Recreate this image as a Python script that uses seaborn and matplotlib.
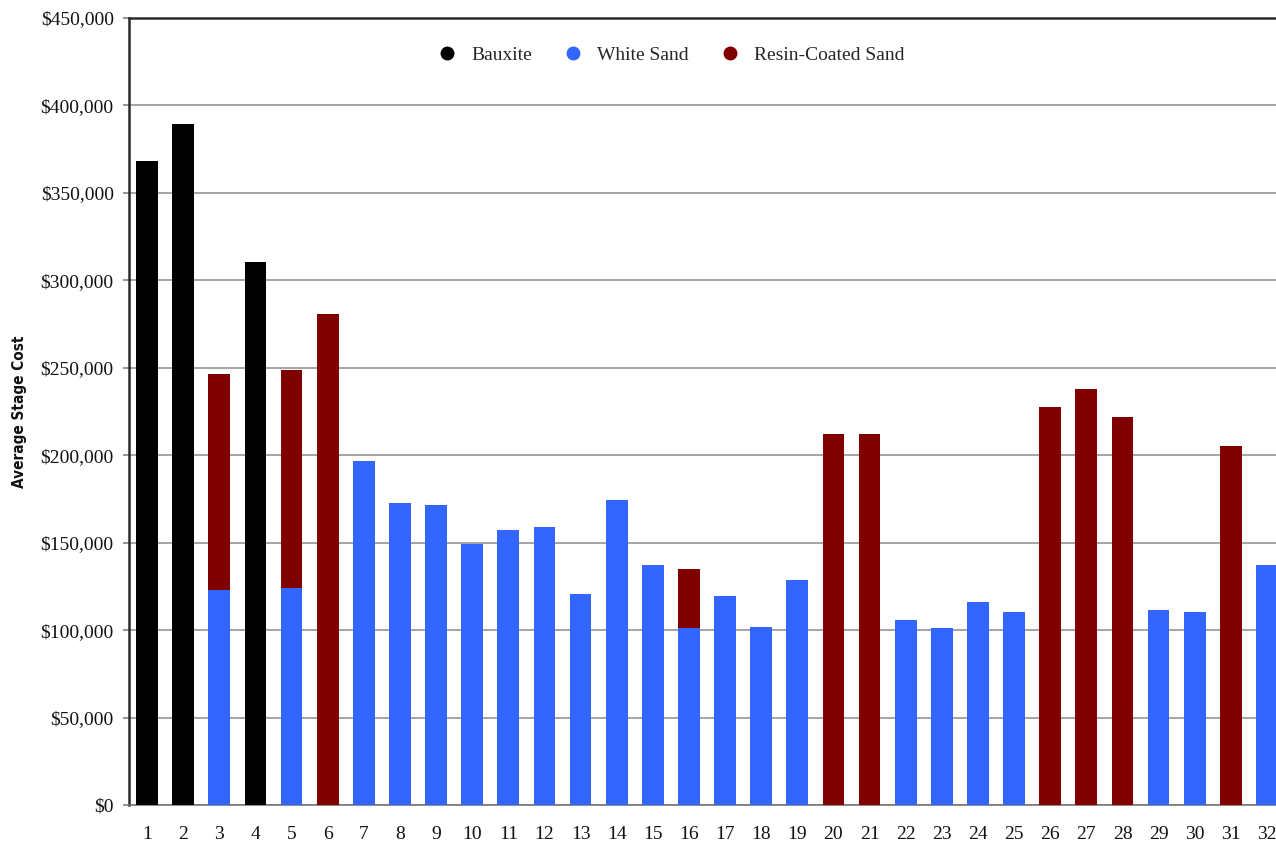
import pandas as pd
import seaborn as sns
import matplotlib.pyplot as plt
from matplotlib.lines import Line2D
from matplotlib.ticker import FuncFormatter, FixedLocator

# well number 1..32
wells = [str(i) for i in range(1, 33)]

# bauxite wells
bauxite_wells = ['1', '2', '4']
bauxite_cost = [368000, 389500, 310500]

# white sand (bottom part of stack)
white_wells = ['3', '5', '7', '8', '9', '10', '11', '12', '13', '14', '15', '16',
               '17', '18', '19', '22', '23', '24', '25', '29', '30', '32']
white_cost = [123000, 124000, 196500, 172500, 171500, 149500, 157000, 159000,
              120500, 174500, 137500, 101000, 119500, 102000, 128500, 106000,
              101000, 116000, 110500, 111500, 110500, 137500]

# resin-coated sand (total height of stack)
resin_wells = ['3', '5', '6', '16', '20', '21', '26', '27', '28', '31']
resin_total = [246500, 248500, 281000, 135000, 212000, 212000, 227500, 238000,
               222000, 205000]

c_baux = '#000000'
c_white = '#3366FF'
c_resin = '#800000'

sns.set_style("white")
plt.rcParams['font.family'] = ['Liberation Serif', 'DejaVu Serif']

fig = plt.figure(figsize=(12.76, 8.41), dpi=100)
ax = fig.add_axes([129 / 1276, 36 / 841, 1156 / 1276, 787 / 841])

d_resin = pd.DataFrame({'well': resin_wells, 'cost': resin_total})
d_white = pd.DataFrame({'well': white_wells, 'cost': white_cost})
d_baux = pd.DataFrame({'well': bauxite_wells, 'cost': bauxite_cost})

# resin drawn at full height first, white sand laid over it
sns.barplot(x='well', y='cost', data=d_resin, order=wells, color=c_resin,
            width=0.6, saturation=1, linewidth=0, ax=ax, zorder=3)
sns.barplot(x='well', y='cost', data=d_white, order=wells, color=c_white,
            width=0.6, saturation=1, linewidth=0, ax=ax, zorder=3)
sns.barplot(x='well', y='cost', data=d_baux, order=wells, color=c_baux,
            width=0.6, saturation=1, linewidth=0, ax=ax, zorder=3)

ax.set_xlim(-0.5, 31.5)
ax.set_ylim(0, 450000)
ax.set_yticks(range(0, 450001, 50000))
ax.yaxis.set_major_formatter(FuncFormatter(lambda v, p: '${:,.0f}'.format(v)))
ax.grid(axis='y', color='#8c8c8c', linewidth=1.1, zorder=0)
ax.set_axisbelow(True)

ax.xaxis.set_minor_locator(FixedLocator([i + 0.5 for i in range(-1, 32)]))
ax.tick_params(axis='x', which='major', length=0, labelsize=14, pad=15,
               labelcolor='#111111')
ax.tick_params(axis='x', which='minor', length=6, width=1.1, color='#777777',
               direction='out')
ax.tick_params(axis='y', length=4, width=1.1, color='#777777', labelsize=14,
               pad=7, labelcolor='#111111', left=True)

for s in ['left', 'top']:
    ax.spines[s].set_color('#2a2a2a')
    ax.spines[s].set_linewidth(1.8)
ax.spines['bottom'].set_color('#777777')
ax.spines['bottom'].set_linewidth(1.2)
ax.spines['right'].set_visible(False)

ax.set_xlabel('')
ax.set_ylabel('Average Stage Cost', fontsize=11, fontweight='heavy',
              family=['Liberation Sans Narrow', 'DejaVu Sans'],
              fontstretch='condensed', labelpad=10, color='#111111')

handles = [Line2D([], [], marker='o', linestyle='', color=c, markersize=9)
           for c in [c_baux, c_white, c_resin]]
ax.legend(handles, ['Bauxite', 'White Sand', 'Resin-Coated Sand'], ncol=3,
          loc='center', bbox_to_anchor=(0.469, 0.953), frameon=False,
          fontsize=14, handlelength=1.0, handletextpad=0.75,
          columnspacing=1.6)

fig.savefig('out.png', dpi=100)
